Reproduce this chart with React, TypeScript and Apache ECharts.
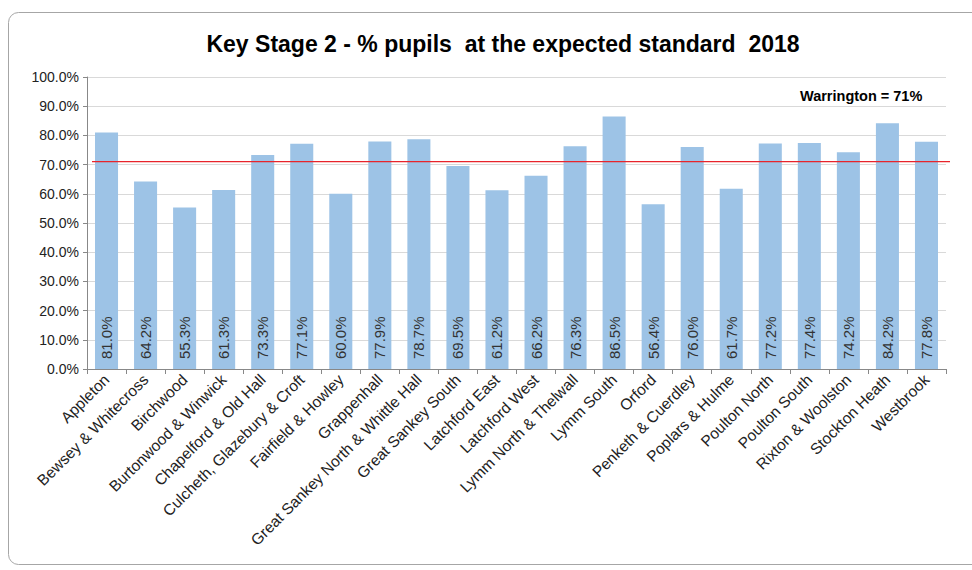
import React, { useEffect, useRef } from "react";
import * as echarts from "echarts";

const categories = [
  "Appleton",
  "Bewsey & Whitecross",
  "Birchwood",
  "Burtonwood & Winwick",
  "Chapelford & Old Hall",
  "Culcheth, Glazebury & Croft",
  "Fairfield & Howley",
  "Grappenhall",
  "Great Sankey North & Whittle Hall",
  "Great Sankey South",
  "Latchford East",
  "Latchford West",
  "Lymm North & Thelwall",
  "Lymm South",
  "Orford",
  "Penketh & Cuerdley",
  "Poplars & Hulme",
  "Poulton North",
  "Poulton South",
  "Rixton & Woolston",
  "Stockton Heath",
  "Westbrook",
];

const values = [
  81.0, 64.2, 55.3, 61.3, 73.3, 77.1, 60.0, 77.9, 78.7, 69.5, 61.2, 66.2, 76.3,
  86.5, 56.4, 76.0, 61.7, 77.2, 77.4, 74.2, 84.2, 77.8,
];

const warrington = 71;
const titleText = "Key Stage 2 - % pupils  at the expected standard  2018";
const refLabel = "Warrington = 71%";

const FONT = "'Liberation Sans', Arial, sans-serif";

export default function App() {
  const ref = useRef<HTMLDivElement>(null);
  useEffect(() => {
    if (!ref.current) return;
    const chart = echarts.init(ref.current, null, { renderer: "svg" });
    chart.setOption({
      animation: false,
      backgroundColor: "#ffffff",
      textStyle: { fontFamily: FONT },
      title: {
        text: titleText,
        left: 498,
        textAlign: "center",
        top: 27,
        textStyle: { fontSize: 23, fontWeight: "bold", color: "#000", fontFamily: FONT },
      },
      grid: { left: 87, right: 26, top: 77, bottom: 201, containLabel: false },
      xAxis: {
        type: "category",
        data: categories,
        axisLine: { lineStyle: { color: "#888" } },
        axisTick: { show: true, length: 5, lineStyle: { color: "#888" } },
        axisLabel: {
          rotate: 45,
          interval: 0,
          fontSize: 15.5,
          color: "#222",
          margin: 8,
          fontFamily: FONT,
        },
      },
      yAxis: {
        type: "value",
        min: 0,
        max: 100,
        interval: 10,
        axisLine: { show: true, lineStyle: { color: "#888" } },
        axisTick: { show: true, length: 4, lineStyle: { color: "#888" } },
        splitLine: { lineStyle: { color: "#d9d9d9" } },
        axisLabel: {
          formatter: (v: number) => v.toFixed(1) + "%",
          fontSize: 14,
          color: "#222",
          margin: 8,
          fontFamily: FONT,
        },
      },
      series: [
        {
          type: "bar",
          data: values,
          barCategoryGap: "41%",
          itemStyle: { color: "#9dc3e6" },
          label: {
            show: true,
            position: "insideBottom",
            rotate: 90,
            align: "left",
            verticalAlign: "middle",
            distance: 10,
            formatter: (p: any) => Number(p.value).toFixed(1) + "%",
            fontSize: 15,
            color: "#333",
            fontFamily: FONT,
          },
        },
      ],
    });
    const yPix = chart.convertToPixel({ yAxisIndex: 0 }, warrington) as number;
    chart.setOption({
      graphic: [
        {
          type: "rect",
          shape: { x: 8.5, y: 12.5, width: 990, height: 552, r: 10 },
          style: { fill: "none", stroke: "#a6a6a6", lineWidth: 1 },
          silent: true,
          z: 0,
        },
        {
          type: "line",
          shape: { x1: 92, y1: yPix, x2: 950, y2: yPix },
          style: { stroke: "#e8242b", lineWidth: 1.3 },
          silent: true,
          z: 10,
        },
        {
          type: "text",
          left: 800,
          top: 88,
          style: {
            text: refLabel,
            fontSize: 14.5,
            fontWeight: "bold",
            fill: "#000",
            fontFamily: FONT,
          },
          z: 10,
        },
      ],
    });
    return () => chart.dispose();
  }, []);
  return (
    <div
      ref={ref}
      style={{ position: "fixed", left: 0, top: 0, width: 972, height: 570 }}
    />
  );
}
